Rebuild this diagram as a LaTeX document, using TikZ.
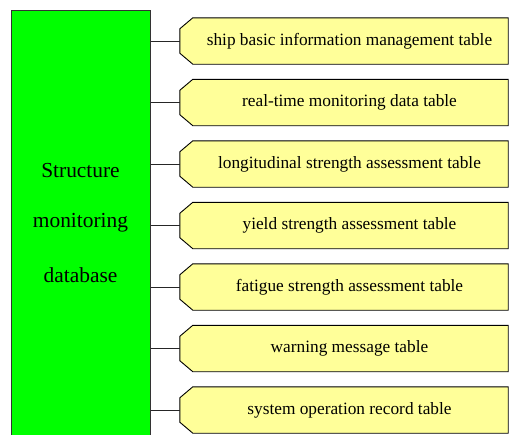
\documentclass[tikz,border=0pt]{standalone}
\usepackage{fontspec}
\setmainfont{Liberation Serif}
\begin{document}
\begin{tikzpicture}[x=1pt,y=-1pt,
  dbbox/.style={draw=black!80, line width=0.9pt, fill=dbgreen, minimum width=139pt,
    minimum height=440pt, anchor=north west, inner sep=0pt},
  dbtext/.style={font=\fontsize{21.4}{24}\selectfont, inner sep=0pt},
  tablebox/.style={minimum width=328pt, minimum height=46pt, inner sep=0pt},
  tableedge/.style={draw=black, line width=0.9pt, fill=tableyellow, line join=miter},
  tabletext/.style={font=\fontsize{17.3}{20}\selectfont, inner sep=0pt},
  link/.style={draw=black!85, line width=0.9pt}]
\definecolor{dbgreen}{RGB}{0,255,0}
\definecolor{tableyellow}{RGB}{255,255,153}
\useasboundingbox (0,0) rectangle (509,434);
\clip (0,0) rectangle (509,434);

% database column
\node[dbbox] (db) at (11,10) {};
\node[dbtext] (s1) at (80.5,171) {Structure};
\node[dbtext] (s2) at (80.5,223) {monitoring};
\node[dbtext] (s3) at (80.5,275) {database};

% tables
\foreach \i/\t in {0/ship basic information management table,
                   1/real-time monitoring data table,
                   2/longitudinal strength assessment table,
                   3/yield strength assessment table,
                   4/fatigue strength assessment table,
                   5/warning message table,
                   6/system operation record table} {
  \pgfmathsetmacro{\yy}{41+61.5*\i}
  \node[tablebox] (t\i) at (344,\yy) {};
  \path[tableedge] ([xshift=13pt]t\i.north west) -- (t\i.north east)
    -- (t\i.south east) -- ([xshift=13pt]t\i.south west)
    -- ([yshift=11pt]t\i.south west) -- ([yshift=-11pt]t\i.north west) -- cycle;
  \node[tabletext] (l\i) at (349.5,\yy) {\t};
  \draw[link] (db.east |- t\i.west) -- (t\i.west);
}
\end{tikzpicture}
\end{document}
